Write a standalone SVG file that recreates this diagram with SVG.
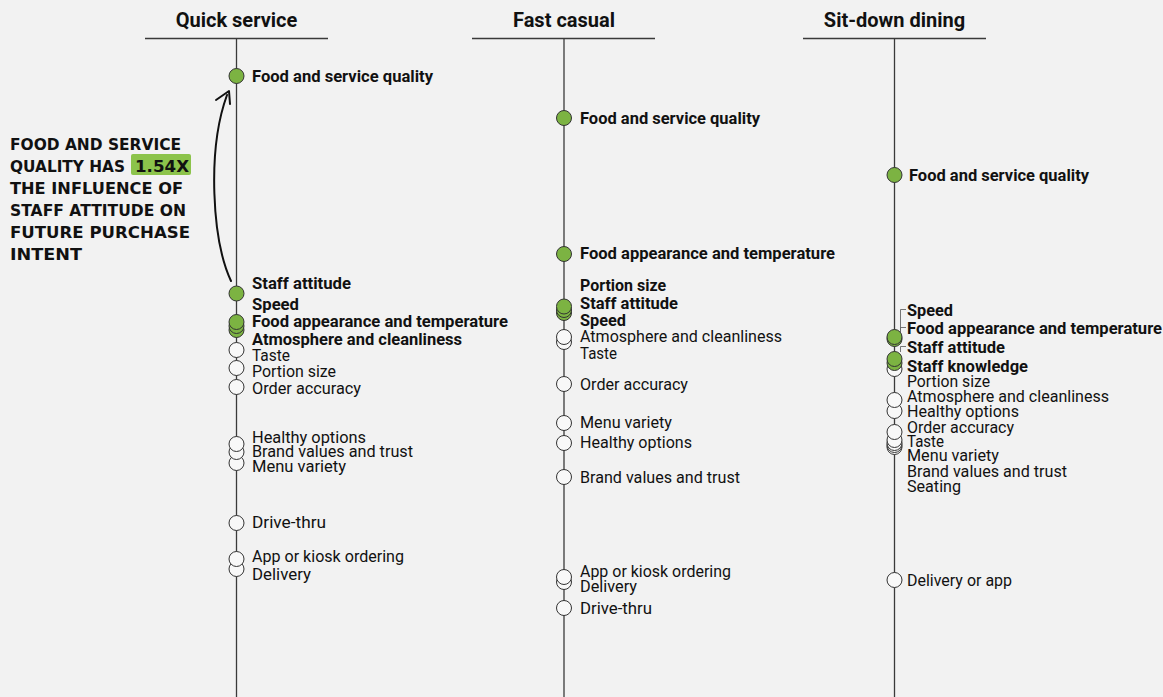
<svg xmlns="http://www.w3.org/2000/svg" width="1163" height="697" viewBox="0 0 1163 697">
<style>
.ax{stroke:#3a3a3a;stroke-width:1.3;fill:none}
.ld{stroke:#666;stroke-width:0.9;fill:none}
.hd{font-family:Roboto,"Liberation Sans",sans-serif;font-weight:700;font-size:20px;fill:#111;text-anchor:middle}
.t{font-family:Roboto,"Liberation Sans",sans-serif;font-size:16px;fill:#111}
.b{font-weight:700}
.g{fill:#7cb342;stroke:#333;stroke-width:1}
.w{fill:#f8f8f8;stroke:#333;stroke-width:1}
.hand{font-family:"DejaVu Sans",sans-serif;font-weight:700;font-size:15px;fill:#111}
.arr{stroke:#111;stroke-width:2;fill:none;stroke-linecap:round;stroke-linejoin:round}
</style>
<rect width="1163" height="697" fill="#f2f2f2"/>

<g id="connectors">
  <line class="ax" x1="145" y1="38.5" x2="328" y2="38.5"/>
  <line class="ax" x1="472" y1="38.5" x2="655" y2="38.5"/>
  <line class="ax" x1="803" y1="38.5" x2="986" y2="38.5"/>
  <line class="ax" x1="236.5" y1="39" x2="236.5" y2="697"/>
  <line class="ax" x1="564" y1="39" x2="564" y2="697"/>
  <line class="ax" x1="894.5" y1="39" x2="894.5" y2="697"/>
  <path class="ld" d="M900.5 332V309.5H906"/>
  <path class="ld" d="M900.5 332V327.5H906"/>
  <path class="ld" d="M900.5 352V346.5H906"/>
  <path class="arr" d="M231 281C212 240 207 150 227 95"/>
  <path class="arr" d="M216 100L229 91L230 104"/>
</g>

<g id="headers">
  <text class="hd" x="236.5" y="27">Quick service</text>
  <text class="hd" x="564" y="27">Fast casual</text>
  <text class="hd" x="894.5" y="27">Sit-down dining</text>
</g>

<g id="annotation">
  <rect x="131" y="154" width="60" height="21" rx="2" fill="#8cc34b"/>
  <text class="hand" x="10" y="150" textLength="171" lengthAdjust="spacingAndGlyphs">FOOD AND SERVICE</text>
  <text class="hand" x="10" y="172" textLength="115" lengthAdjust="spacingAndGlyphs">QUALITY HAS</text>
  <text class="hand" x="135" y="172" textLength="54" lengthAdjust="spacingAndGlyphs">1.54X</text>
  <text class="hand" x="10" y="194" textLength="173" lengthAdjust="spacingAndGlyphs">THE INFLUENCE OF</text>
  <text class="hand" x="10" y="216" textLength="176" lengthAdjust="spacingAndGlyphs">STAFF ATTITUDE ON</text>
  <text class="hand" x="10" y="238" textLength="180" lengthAdjust="spacingAndGlyphs">FUTURE PURCHASE</text>
  <text class="hand" x="10" y="260" textLength="72" lengthAdjust="spacingAndGlyphs">INTENT</text>
</g>

<!-- Quick service -->
<g id="qs-delivery"><circle class="w" cx="236.5" cy="569" r="7.5"/><text class="t" x="252" y="580" textLength="59" lengthAdjust="spacingAndGlyphs">Delivery</text></g>
<g id="qs-app"><circle class="w" cx="236.5" cy="559" r="7.5"/><text class="t" x="252" y="562" textLength="152" lengthAdjust="spacingAndGlyphs">App or kiosk ordering</text></g>
<g id="qs-drive"><circle class="w" cx="236.5" cy="523" r="7.5"/><text class="t" x="252" y="528" textLength="74" lengthAdjust="spacingAndGlyphs">Drive-thru</text></g>
<g id="qs-menu"><circle class="w" cx="236.5" cy="463" r="7.5"/><text class="t" x="252" y="472" textLength="94" lengthAdjust="spacingAndGlyphs">Menu variety</text></g>
<g id="qs-brand"><circle class="w" cx="236.5" cy="452" r="7.5"/><text class="t" x="252" y="457" textLength="161" lengthAdjust="spacingAndGlyphs">Brand values and trust</text></g>
<g id="qs-healthy"><circle class="w" cx="236.5" cy="444" r="7.5"/><text class="t" x="252" y="443" textLength="114" lengthAdjust="spacingAndGlyphs">Healthy options</text></g>
<g id="qs-order"><circle class="w" cx="236.5" cy="387" r="7.5"/><text class="t" x="252" y="394" textLength="109" lengthAdjust="spacingAndGlyphs">Order accuracy</text></g>
<g id="qs-portion"><circle class="w" cx="236.5" cy="368" r="7.5"/><text class="t" x="252" y="377" textLength="84" lengthAdjust="spacingAndGlyphs">Portion size</text></g>
<g id="qs-taste"><circle class="w" cx="236.5" cy="350" r="7.5"/><text class="t" x="252" y="361" textLength="38" lengthAdjust="spacingAndGlyphs">Taste</text></g>
<g id="qs-atmos"><circle class="g" cx="236.5" cy="330" r="7.5"/><text class="t b" x="252" y="345" textLength="210" lengthAdjust="spacingAndGlyphs">Atmosphere and cleanliness</text></g>
<g id="qs-appearance"><circle class="g" cx="236.5" cy="326" r="7.5"/><text class="t b" x="252" y="327" textLength="256" lengthAdjust="spacingAndGlyphs">Food appearance and temperature</text></g>
<g id="qs-speed"><circle class="g" cx="236.5" cy="322" r="7.5"/><text class="t b" x="252" y="310" textLength="47" lengthAdjust="spacingAndGlyphs">Speed</text></g>
<g id="qs-staff"><circle class="g" cx="236.5" cy="293.5" r="7.5"/><text class="t b" x="252" y="289" textLength="99" lengthAdjust="spacingAndGlyphs">Staff attitude</text></g>
<g id="qs-fsq"><circle class="g" cx="236.5" cy="76" r="7.5"/><text class="t b" x="252" y="82" textLength="181" lengthAdjust="spacingAndGlyphs">Food and service quality</text></g>

<!-- Fast casual -->
<g id="fc-drive"><circle class="w" cx="564" cy="608" r="7.5"/><text class="t" x="580" y="614" textLength="72" lengthAdjust="spacingAndGlyphs">Drive-thru</text></g>
<g id="fc-delivery"><circle class="w" cx="564" cy="582" r="7.5"/><text class="t" x="580" y="592" textLength="57" lengthAdjust="spacingAndGlyphs">Delivery</text></g>
<g id="fc-app"><circle class="w" cx="564" cy="577" r="7.5"/><text class="t" x="580" y="577" textLength="151" lengthAdjust="spacingAndGlyphs">App or kiosk ordering</text></g>
<g id="fc-brand"><circle class="w" cx="564" cy="477" r="7.5"/><text class="t" x="580" y="483" textLength="160" lengthAdjust="spacingAndGlyphs">Brand values and trust</text></g>
<g id="fc-healthy"><circle class="w" cx="564" cy="443" r="7.5"/><text class="t" x="580" y="448" textLength="112" lengthAdjust="spacingAndGlyphs">Healthy options</text></g>
<g id="fc-menu"><circle class="w" cx="564" cy="423" r="7.5"/><text class="t" x="580" y="428" textLength="92" lengthAdjust="spacingAndGlyphs">Menu variety</text></g>
<g id="fc-order"><circle class="w" cx="564" cy="384" r="7.5"/><text class="t" x="580" y="390" textLength="108" lengthAdjust="spacingAndGlyphs">Order accuracy</text></g>
<g id="fc-taste"><circle class="w" cx="564" cy="342" r="7.5"/><text class="t" x="580" y="359" textLength="37" lengthAdjust="spacingAndGlyphs">Taste</text></g>
<g id="fc-atmos"><circle class="w" cx="564" cy="337" r="7.5"/><text class="t" x="580" y="342" textLength="202" lengthAdjust="spacingAndGlyphs">Atmosphere and cleanliness</text></g>
<g id="fc-speed"><circle class="g" cx="564" cy="313" r="7.5"/><text class="t b" x="580" y="326" textLength="46" lengthAdjust="spacingAndGlyphs">Speed</text></g>
<g id="fc-staff"><circle class="g" cx="564" cy="310" r="7.5"/><text class="t b" x="580" y="309" textLength="98" lengthAdjust="spacingAndGlyphs">Staff attitude</text></g>
<g id="fc-portion"><circle class="g" cx="564" cy="306.5" r="7.5"/><text class="t b" x="580" y="291" textLength="86" lengthAdjust="spacingAndGlyphs">Portion size</text></g>
<g id="fc-appearance"><circle class="g" cx="564" cy="254" r="7.5"/><text class="t b" x="580" y="259" textLength="255" lengthAdjust="spacingAndGlyphs">Food appearance and temperature</text></g>
<g id="fc-fsq"><circle class="g" cx="564" cy="118" r="7.5"/><text class="t b" x="580" y="124" textLength="180" lengthAdjust="spacingAndGlyphs">Food and service quality</text></g>

<!-- Sit-down dining -->
<g id="sd-delivery"><circle class="w" cx="894.5" cy="580" r="7.5"/><text class="t" x="907" y="586" textLength="105" lengthAdjust="spacingAndGlyphs">Delivery or app</text></g>
<g id="sd-seating"><circle class="w" cx="894.5" cy="447" r="7.5"/><text class="t" x="907" y="492" textLength="54" lengthAdjust="spacingAndGlyphs">Seating</text></g>
<g id="sd-brand"><circle class="w" cx="894.5" cy="445" r="7.5"/><text class="t" x="907" y="477" textLength="160" lengthAdjust="spacingAndGlyphs">Brand values and trust</text></g>
<g id="sd-menu"><circle class="w" cx="894.5" cy="443" r="7.5"/><text class="t" x="907" y="461" textLength="92" lengthAdjust="spacingAndGlyphs">Menu variety</text></g>
<g id="sd-taste"><circle class="w" cx="894.5" cy="440" r="7.5"/><text class="t" x="907" y="447" textLength="37" lengthAdjust="spacingAndGlyphs">Taste</text></g>
<g id="sd-order"><circle class="w" cx="894.5" cy="432" r="7.5"/><text class="t" x="907" y="433" textLength="107" lengthAdjust="spacingAndGlyphs">Order accuracy</text></g>
<g id="sd-healthy"><circle class="w" cx="894.5" cy="411" r="7.5"/><text class="t" x="907" y="417" textLength="112" lengthAdjust="spacingAndGlyphs">Healthy options</text></g>
<g id="sd-atmos"><circle class="w" cx="894.5" cy="400" r="7.5"/><text class="t" x="907" y="402" textLength="202" lengthAdjust="spacingAndGlyphs">Atmosphere and cleanliness</text></g>
<g id="sd-portion"><circle class="w" cx="894.5" cy="369" r="7.5"/><text class="t" x="907" y="387" textLength="83" lengthAdjust="spacingAndGlyphs">Portion size</text></g>
<g id="sd-knowledge"><circle class="g" cx="894.5" cy="363" r="7.5"/><text class="t b" x="907" y="372" textLength="121" lengthAdjust="spacingAndGlyphs">Staff knowledge</text></g>
<g id="sd-staff"><circle class="g" cx="894.5" cy="359" r="7.5"/><text class="t b" x="907" y="353" textLength="98" lengthAdjust="spacingAndGlyphs">Staff attitude</text></g>
<g id="sd-appearance"><circle class="g" cx="894.5" cy="339" r="7.5"/><text class="t b" x="907" y="334" textLength="255" lengthAdjust="spacingAndGlyphs">Food appearance and temperature</text></g>
<g id="sd-speed"><circle class="g" cx="894.5" cy="337" r="7.5"/><text class="t b" x="907" y="316" textLength="46" lengthAdjust="spacingAndGlyphs">Speed</text></g>
<g id="sd-fsq"><circle class="g" cx="894.5" cy="175" r="7.5"/><text class="t b" x="909" y="181" textLength="180" lengthAdjust="spacingAndGlyphs">Food and service quality</text></g>
</svg>
